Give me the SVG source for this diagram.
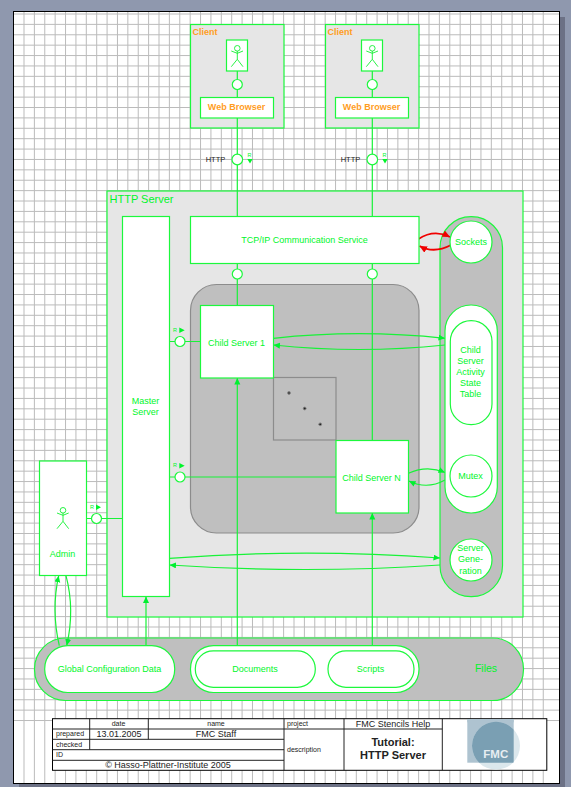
<svg xmlns="http://www.w3.org/2000/svg" width="571" height="787" viewBox="0 0 571 787">
<style>
text{font-family:"Liberation Sans",Arial,sans-serif;fill:#00f52a}
.m{text-anchor:middle}
.n{fill:#fff;stroke:#1cf83c;stroke-width:1.2}
.c{fill:#e6e6e6;stroke:#1cf83c;stroke-width:1.2}
.g{fill:#bfbfbf;stroke:#1cf83c;stroke-width:1.2}
.d{fill:#bfbfbf;stroke:#8c8c8c;stroke-width:1.2}
.l{fill:none;stroke:#18f238;stroke-width:1.2}
.r{fill:none;stroke:#f00000;stroke-width:1.8}
.a{fill:none;stroke:#10f030;stroke-width:.9}
.o{fill:#ff9d1e}
.b{fill:#fff;stroke:#000;stroke-width:1}
.t{fill:none;stroke:#222;stroke-width:1}
.k{fill:#222}
.f{fill:#00f52a}
</style>
<defs>
<clipPath id="logo-clip"><rect x="467.3" y="719" width="46.4" height="43.7"/></clipPath>
<marker id="ah" markerUnits="userSpaceOnUse" markerWidth="8" markerHeight="8" refX="6.5" refY="3" orient="auto"><path d="M0 0L6.5 3L0 6Z" fill="#00f030"/></marker>
<marker id="ar" markerUnits="userSpaceOnUse" markerWidth="9" markerHeight="9" refX="7.5" refY="3.5" orient="auto"><path d="M0 0L7.5 3.5L0 7Z" fill="#f00000"/></marker>
<g id="actor" class="a"><circle cx="237.3" cy="48.3" r="2.8"/><path d="M231.3 51L237.3 53.3L243 51M237.3 51V59.3M231.3 66.7L237.3 59.3L243 66.7"/></g>
</defs>
<rect width="571" height="787" fill="#8f98ae"/>
<rect x="560" y="17" width="5" height="770" fill="#6c7185"/>
<rect x="19" y="784" width="546" height="3" fill="#6c7185"/>
<rect x="13.5" y="11.5" width="546" height="772" fill="#fff" stroke="#000" stroke-width="1"/>
<path fill="none" stroke="#bbb" stroke-width="1" d="M24 12v771m10.385-771v771m10.385-771v771m10.385-771v771m10.385-771v771m10.385-771v771m10.385-771v771m10.385-771v771m10.385-771v771m10.385-771v771m10.385-771v771m10.385-771v771m10.385-771v771m10.385-771v771m10.385-771v771m10.385-771v771m10.385-771v771m10.385-771v771m10.385-771v771m10.385-771v771m10.385-771v771m10.385-771v771m10.385-771v771m10.385-771v771m10.385-771v771m10.385-771v771m10.385-771v771m10.385-771v771m10.385-771v771m10.385-771v771m10.385-771v771m10.385-771v771m10.385-771v771m10.385-771v771m10.385-771v771m10.385-771v771m10.385-771v771m10.385-771v771m10.385-771v771m10.385-771v771m10.385-771v771m10.385-771v771m10.385-771v771m10.385-771v771m10.385-771v771m10.385-771v771m10.385-771v771m10.385-771v771m10.385-771v771m10.385-771v771m10.385-771v771"/>
<path fill="none" stroke="#bbb" stroke-width="1" d="M14 14h545m-545 10.39h545m-545 10.39h545m-545 10.39h545m-545 10.39h545m-545 10.39h545m-545 10.39h545m-545 10.39h545m-545 10.39h545m-545 10.39h545m-545 10.39h545m-545 10.39h545m-545 10.39h545m-545 10.39h545m-545 10.39h545m-545 10.39h545m-545 10.39h545m-545 10.39h545m-545 10.39h545m-545 10.39h545m-545 10.39h545m-545 10.39h545m-545 10.39h545m-545 10.39h545m-545 10.39h545m-545 10.39h545m-545 10.39h545m-545 10.39h545m-545 10.39h545m-545 10.39h545m-545 10.39h545m-545 10.39h545m-545 10.39h545m-545 10.39h545m-545 10.39h545m-545 10.39h545m-545 10.39h545m-545 10.39h545m-545 10.39h545m-545 10.39h545m-545 10.39h545m-545 10.39h545m-545 10.39h545m-545 10.39h545m-545 10.39h545m-545 10.39h545m-545 10.39h545m-545 10.39h545m-545 10.39h545m-545 10.39h545m-545 10.39h545m-545 10.39h545m-545 10.39h545m-545 10.39h545m-545 10.39h545m-545 10.39h545m-545 10.39h545m-545 10.39h545m-545 10.39h545m-545 10.39h545m-545 10.39h545m-545 10.39h545m-545 10.39h545m-545 10.39h545m-545 10.39h545m-545 10.39h545m-545 10.39h545m-545 10.39h545m-545 10.39h545"/>

<g id="client1"><rect class="c" x="190.5" y="24.5" width="93.5" height="103.5"/><text class="o" x="192.5" y="35" font-size="9" font-weight="bold">Client</text></g>
<g id="client2"><rect class="c" x="325.5" y="24.5" width="93.5" height="103.5"/><text class="o" x="327.5" y="35" font-size="9" font-weight="bold">Client</text></g>
<g id="http-server"><rect class="c" x="107" y="191" width="416" height="426"/><text x="109.5" y="203" font-size="11">HTTP Server</text></g>
<g id="processes"><rect class="d" x="190.5" y="284.5" width="228.5" height="248.5" rx="26"/></g>
<g id="resources"><rect class="g" x="440" y="216.7" width="62.5" height="380" rx="31"/></g>
<g id="files"><rect class="g" x="34.5" y="638" width="489" height="62.5" rx="31"/><text class="m" x="486" y="672" font-size="10.5">Files</text></g>
<g id="child-multiple"><rect class="d" x="273.5" y="377.5" width="62.5" height="62.5"/><g fill="#222" stroke="#8a8a8a" stroke-width="1"><circle cx="289" cy="393" r="1.4"/><circle cx="304.7" cy="408.5" r="1.4"/><circle cx="320.2" cy="424.3" r="1.4"/></g></g>

<g id="connectors">
<path class="l" d="M237.3 71V97.5M237.3 118V216.5M372.3 71V97.5M372.3 118V216.5M237.3 263.5V305.5M372.3 263.5V440.5M169.5 341.5H200.5M169.5 477H336M86.5 518.5H122.5"/>
<path class="l" d="M237.3 645.5V378" marker-end="url(#ah)"/>
<path class="l" d="M372.3 645.5V513" marker-end="url(#ah)"/>
<path class="l" d="M146 645.5V596.5" marker-end="url(#ah)"/>
<path class="l" d="M59.3 645.7Q51 610 58.7 575.7" marker-end="url(#ah)"/>
<path class="l" d="M66 575.7Q75 610 66.7 645.5" marker-end="url(#ah)"/>
<path class="l" d="M273.5 338.3Q359 329 445 338.3" marker-end="url(#ah)"/>
<path class="l" d="M445 345Q359 354 273.5 345" marker-end="url(#ah)"/>
<path class="l" d="M408.5 473.3Q427 465 445 472.5" marker-end="url(#ah)"/>
<path class="l" d="M445 480Q427 490 409 481" marker-end="url(#ah)"/>
<path class="l" d="M169.5 558.3Q305 548 440 558" marker-end="url(#ah)"/>
<path class="l" d="M440 565Q305 574 169.5 565" marker-end="url(#ah)"/>
<path class="r" d="M418.5 239Q434 229 450 237" marker-end="url(#ar)"/>
<path class="r" d="M451 245Q434 254 419.5 246" marker-end="url(#ar)"/>
</g>

<g id="client1-user"><rect class="n" x="226.5" y="40" width="21" height="31"/><use href="#actor"/></g>
<g id="client2-user"><rect class="n" x="361.5" y="40" width="21" height="31"/><use href="#actor" x="135"/></g>
<g id="browser1"><rect class="n" x="200.5" y="97.5" width="73" height="20.5"/><text class="o m" x="236.5" y="110" font-size="9" font-weight="bold">Web Browser</text></g>
<g id="browser2"><rect class="n" x="335.5" y="97.5" width="73" height="20.5"/><text class="o m" x="371.5" y="110" font-size="9" font-weight="bold">Web Browser</text></g>
<g id="channels">
<circle class="n" cx="237.3" cy="84.5" r="5"/><circle class="n" cx="372.3" cy="84.5" r="5"/>
<circle class="n" cx="237.3" cy="159.5" r="5.3"/><circle class="n" cx="372.3" cy="159.5" r="5.3"/>
<circle class="n" cx="237.3" cy="274" r="5"/><circle class="n" cx="372.3" cy="274" r="5"/>
<circle class="n" cx="180" cy="341.5" r="5"/><circle class="n" cx="180" cy="477" r="5"/><circle class="n" cx="96.5" cy="518.5" r="5"/>
<text class="k m" x="215.5" y="161.5" font-size="7.5">HTTP</text><text class="k m" x="350.5" y="161.5" font-size="7.5">HTTP</text>
<text class="m" x="249.5" y="156.5" font-size="5.5">R</text><text class="m" x="384.5" y="156.5" font-size="5.5">R</text>
<path class="f" d="M247.3 159H252.7L250 163.5ZM382.3 159H387.7L385 163.5Z"/>
<text class="m" x="175" y="331.5" font-size="5.5">R</text><text class="m" x="175" y="467" font-size="5.5">R</text><text class="m" x="92" y="509" font-size="5.5">R</text>
<path class="f" d="M179.3 327.5V333L184.7 330.3ZM179.3 463V468.5L184.7 465.8ZM96 504.5V510L101 507.3Z"/>
</g>
<g id="tcp"><rect class="n" x="190.5" y="216.5" width="228.5" height="47"/><text class="m" x="304.5" y="243" font-size="9">TCP/IP Communication Service</text></g>
<g id="master"><rect class="n" x="122.5" y="216.5" width="47" height="380"/><text class="m" x="145.5" y="403.5" font-size="9">Master</text><text class="m" x="145.5" y="414.5" font-size="9">Server</text></g>
<g id="child1"><rect class="n" x="200.5" y="305.5" width="73" height="72.5"/><text class="m" x="236.5" y="346" font-size="9">Child Server 1</text></g>
<g id="childn"><rect class="n" x="336" y="440.5" width="72.5" height="72.5"/><text class="m" x="371.5" y="481" font-size="9">Child Server N</text></g>
<g id="admin"><rect class="n" x="39.5" y="461" width="47" height="114.5"/><use href="#actor" x="-174.3" y="462"/><text class="m" x="62.5" y="557" font-size="9">Admin</text></g>
<g id="sockets"><circle class="n" cx="471" cy="242" r="21"/><text class="m" x="471" y="245" font-size="9">Sockets</text></g>
<g id="shared-mem"><rect class="n" x="445" y="305" width="52.3" height="208" rx="26"/></g>
<g id="state-table"><rect class="n" x="450.3" y="320.7" width="41.7" height="104" rx="20.8"/><text class="m" font-size="9"><tspan x="470.5" y="353">Child</tspan><tspan x="470.5" y="364">Server</tspan><tspan x="470.5" y="375">Activity</tspan><tspan x="470.5" y="386">State</tspan><tspan x="470.5" y="397">Table</tspan></text></g>
<g id="mutex"><circle class="n" cx="471" cy="476" r="21"/><text class="m" x="470.5" y="479" font-size="9">Mutex</text></g>
<g id="generation"><circle class="n" cx="471" cy="560" r="21"/><text class="m" font-size="9"><tspan x="470.5" y="551">Server</tspan><tspan x="470.5" y="562">Gene-</tspan><tspan x="470.5" y="574">ration</tspan></text></g>
<g id="global-config"><rect class="n" x="44.7" y="645.7" width="130" height="46.8" rx="23"/><text class="m" x="109.5" y="671.5" font-size="9">Global Configuration Data</text></g>
<g id="documents-scripts"><rect class="n" x="190.5" y="645.7" width="228.5" height="46.8" rx="23"/></g>
<g id="documents"><rect class="n" x="195.3" y="650.8" width="120" height="36.5" rx="18"/><text class="m" x="255" y="671.5" font-size="9">Documents</text></g>
<g id="scripts"><rect class="n" x="328" y="650.8" width="86" height="36.5" rx="18"/><text class="m" x="370.5" y="671.5" font-size="9">Scripts</text></g>

<g id="title-block">
<rect class="b" x="52.5" y="718.7" width="494.3" height="51.6"/>
<path class="t" d="M52.5 729H284M52.5 739.3H284M52.5 749.7H284M52.5 760.3H284M89.7 718.7V749.7M148.3 718.7V739.3M284 718.7V770.3M344 718.7V770.3M284 729H442.3M442.3 718.7V770.3"/>
<text class="k m" x="118.5" y="725.7" font-size="7">date</text><text class="k m" x="216" y="725.7" font-size="7">name</text>
<text class="k" x="56" y="736" font-size="7">prepared</text><text class="k" x="56" y="746.5" font-size="7">checked</text><text class="k" x="56" y="757" font-size="7">ID</text>
<text class="k m" x="119" y="737" font-size="9">13.01.2005</text><text class="k m" x="216" y="737" font-size="9">FMC Staff</text>
<text class="k m" x="168" y="768" font-size="9">© Hasso-Plattner-Institute 2005</text>
<text class="k" x="287" y="725.7" font-size="7">project</text><text class="k" x="287" y="751.5" font-size="7">description</text>
<text class="k m" x="393" y="726.5" font-size="9">FMC Stencils Help</text>
<text class="k m" x="393" y="746" font-size="11" font-weight="bold">Tutorial:</text><text class="k m" x="393" y="759.3" font-size="11" font-weight="bold">HTTP Server</text>
<rect x="467.3" y="719" width="46.4" height="43.7" fill="#aec3d0"/>
<circle cx="496" cy="745.7" r="24" fill="#dbe7ec"/>
<rect x="467.3" y="719" width="46.4" height="3.3" fill="#aec3d0"/>
<circle cx="496" cy="745.7" r="24" fill="#7a9fb3" clip-path="url(#logo-clip)"/>
<text class="m" x="495.8" y="757.7" font-size="11.5" font-weight="bold" style="fill:#e8eef2">FMC</text>
</g>
</svg>
